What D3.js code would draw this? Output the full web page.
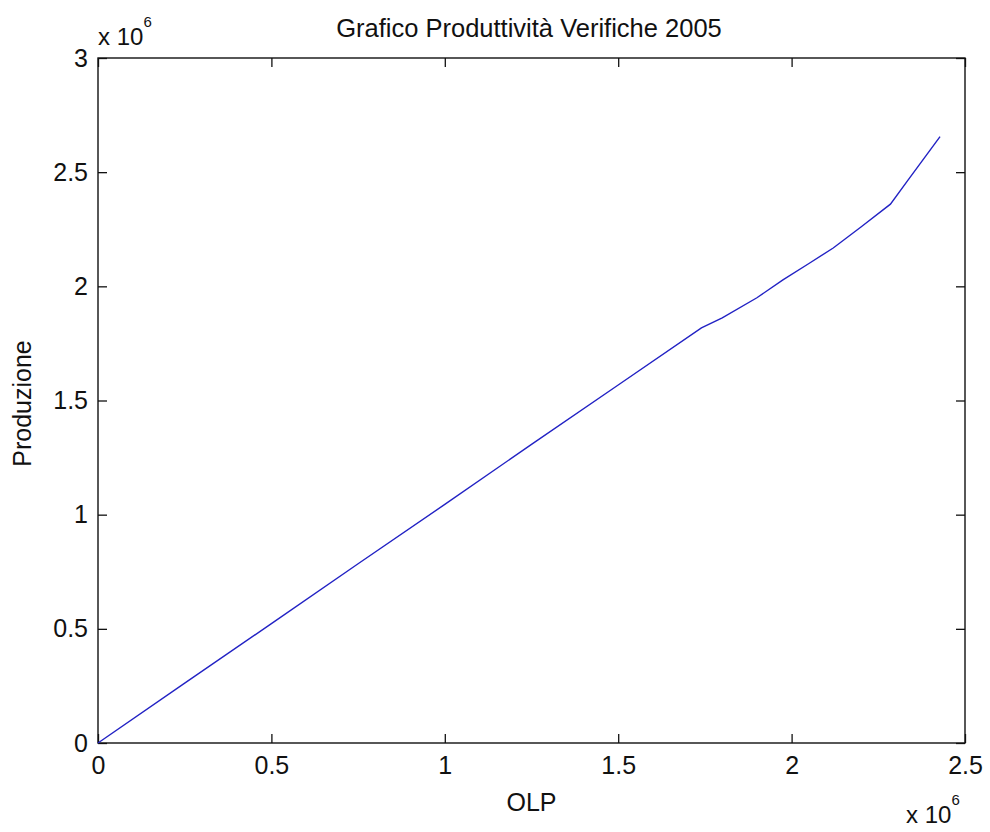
<!DOCTYPE html>
<html>
<head>
<meta charset="utf-8">
<script src="https://cdn.jsdelivr.net/npm/d3@7"></script>
<style>
  html, body { margin: 0; padding: 0; background: #fff; }
  svg text { font-family: "Liberation Sans", Arial, sans-serif; fill: #111; }
</style>
</head>
<body>
<svg id="chart" width="990" height="832"></svg>
<script>
// OLP values (x) and Produzione values (y), in units
const olp = [0, 250000, 500000, 750000, 1000000, 1250000, 1500000, 1740000, 1800000,
             1900000, 1975000, 2050000, 2120000, 2200000, 2285000, 2333000, 2428000];
const produzione = [0, 262000, 523000, 785000, 1045000, 1308000, 1568000, 1818000, 1862000,
                    1950000, 2028000, 2100000, 2168000, 2260000, 2360000, 2460000, 2656000];
const xTicks = [0, 500000, 1000000, 1500000, 2000000, 2500000];
const yTicks = [0, 500000, 1000000, 1500000, 2000000, 2500000, 3000000];
const xTickLabels = ["0", "0.5", "1", "1.5", "2", "2.5"];
const yTickLabels = ["0", "0.5", "1", "1.5", "2", "2.5", "3"];

const title = "Grafico Produttività Verifiche 2005";
const xLabel = "OLP";
const yLabel = "Produzione";

const svg = d3.select("#chart");
const mLeft = 98, mRight = 965, mTop = 58, mBottom = 743;
const fs = 25;

const x = d3.scaleLinear().domain([0, 2500000]).range([mLeft, mRight]);
const y = d3.scaleLinear().domain([0, 3000000]).range([mBottom, mTop]);

const tickLen = 9;

function styleAxis(g) {
  g.select(".domain").remove();
  g.selectAll(".tick line").attr("stroke", "#111").attr("stroke-width", 1.3);
  g.selectAll(".tick text").attr("font-size", fs).attr("fill", "#111")
    .attr("font-family", '"Liberation Sans", Arial, sans-serif');
}

// bottom axis with labels
svg.append("g").attr("transform", `translate(0,${mBottom})`)
  .call(d3.axisBottom(x).tickValues(xTicks).tickSizeInner(-tickLen).tickSizeOuter(0)
    .tickPadding(13).tickFormat((d, i) => xTickLabels[i]))
  .call(styleAxis);
// top axis, ticks only
svg.append("g").attr("transform", `translate(0,${mTop})`)
  .call(d3.axisTop(x).tickValues(xTicks).tickSizeInner(-tickLen).tickSizeOuter(0).tickFormat(""))
  .call(styleAxis);
// left axis with labels
svg.append("g").attr("transform", `translate(${mLeft},0)`)
  .call(d3.axisLeft(y).tickValues(yTicks).tickSizeInner(-tickLen).tickSizeOuter(0)
    .tickPadding(10).tickFormat((d, i) => yTickLabels[i]))
  .call(styleAxis);
// right axis, ticks only
svg.append("g").attr("transform", `translate(${mRight},0)`)
  .call(d3.axisRight(y).tickValues(yTicks).tickSizeInner(-tickLen).tickSizeOuter(0).tickFormat(""))
  .call(styleAxis);

// axes box
svg.append("rect")
  .attr("x", mLeft).attr("y", mTop)
  .attr("width", mRight - mLeft).attr("height", mBottom - mTop)
  .attr("fill", "none").attr("stroke", "#111").attr("stroke-width", 1.4);

// data line
const line = d3.line().x((d, i) => x(olp[i])).y((d, i) => y(produzione[i]));
svg.append("path")
  .datum(olp)
  .attr("d", line)
  .attr("fill", "none")
  .attr("stroke", "#2222c4")
  .attr("stroke-width", 1.4);

// exponent labels
const yExp = svg.append("text").attr("x", mLeft).attr("y", 45).attr("font-size", 24);
yExp.append("tspan").text("x 10");
yExp.append("tspan").attr("dy", -18).attr("font-size", 15).text("6");

const xExp = svg.append("text").attr("x", 906).attr("y", 823).attr("font-size", 24);
xExp.append("tspan").text("x 10");
xExp.append("tspan").attr("dy", -18).attr("font-size", 15).text("6");

// title and axis labels
svg.append("text").attr("x", 529).attr("y", 37)
  .attr("text-anchor", "middle").attr("font-size", 25.5).text(title);
svg.append("text").attr("x", (mLeft + mRight) / 2).attr("y", 811)
  .attr("text-anchor", "middle").attr("font-size", fs).text(xLabel);
svg.append("text")
  .attr("transform", `translate(31,${(mTop + mBottom) / 2 + 3}) rotate(-90)`)
  .attr("text-anchor", "middle").attr("font-size", fs).text(yLabel);
</script>
</body>
</html>
